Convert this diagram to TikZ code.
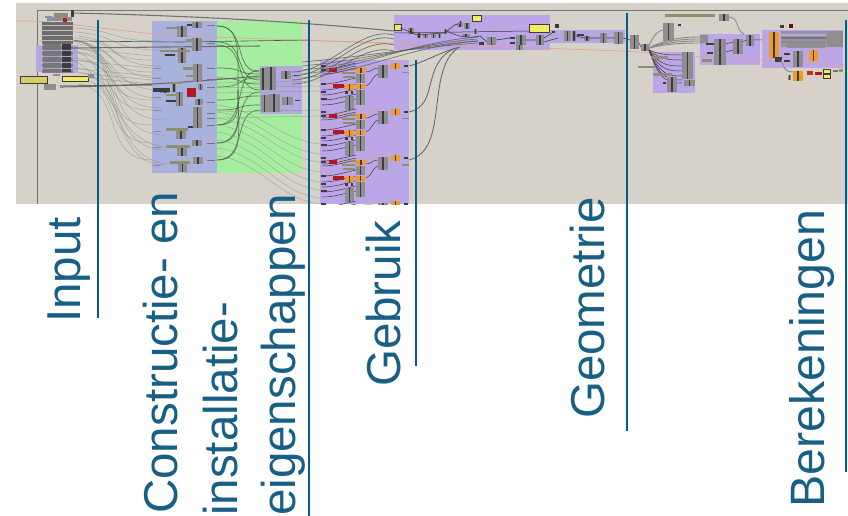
\documentclass[tikz,border=0pt]{standalone}
\usepackage{fontspec}
\setmainfont{Liberation Sans}
\definecolor{shot}{HTML}{D6D2CA}
\definecolor{frameline}{HTML}{77766F}
\definecolor{bluep}{HTML}{A9B2DC}
\definecolor{greenp}{HTML}{A6EE9F}
\definecolor{violetp}{HTML}{BBA6E8}
\definecolor{violetq}{HTML}{B3A8E0}
\definecolor{gcgray}{HTML}{8E8E8E}
\definecolor{gcdark}{HTML}{3C3C40}
\definecolor{olive}{HTML}{8F8F6E}
\definecolor{ylw}{HTML}{F2EC60}
\definecolor{org}{HTML}{F09A28}
\definecolor{redc}{HTML}{B01825}
\definecolor{wire}{HTML}{8A8A84}
\definecolor{wired}{HTML}{4F5A4E}
\definecolor{salmon}{HTML}{E2A48E}
\definecolor{teal}{HTML}{005F8A}
\definecolor{labelc}{HTML}{185F85}
\tikzset{
  x=1pt,y=-1pt,
  dividerline/.style={draw=teal,line width=1.5pt},
  lab/.style={rotate=90,anchor=base west,inner sep=0pt,text=labelc,font=\fontsize{47.5}{50}\selectfont},
  lightwire/.style={draw=wire,line width=.55pt,opacity=.6},
  darkwire/.style={draw=wired,line width=.7pt,opacity=.8},
  heavywire/.style={draw=wire!70!black,line width=1.1pt,opacity=.85},
  redwire/.style={draw=salmon,line width=.7pt},
}
\newcommand{\gc}[4]{\fill[gcgray] (#1,#2) rectangle (#3,#4);
  \fill[gcdark] ({(#1+#3)/2-0.8},#2) rectangle ({(#1+#3)/2+0.8},#4);}
\newcommand{\orc}[4]{\fill[org] (#1,#2) rectangle (#3,#4);
  \fill[gcdark] ({(#1+#3)/2-0.7},#2) rectangle ({(#1+#3)/2+0.7},#4);}
\newcommand{\bx}[5]{\fill[#1] (#2,#3) rectangle (#4,#5);}
\newcommand{\gebruikblock}[1]{%
\begin{scope}[shift={(320,#1)}]
  \draw[redwire] (2,6) .. controls (8,9) and (30,10) .. (58,5);
  \draw[redwire] (8,10) .. controls (5,18) and (8,25) .. (14,27);
  \foreach \yy in {9,12,14,24,30,35,40,45}{\draw[gcdark,line width=.5pt] (2,\yy) .. controls (14,\yy) and (22,{\yy-3}) .. (36,{\yy-6});}
  \draw[gcdark,line width=.5pt] (46,12) .. controls (52,12) and (52,8) .. (58,8);
  \draw[gcdark,line width=.5pt] (46,26) .. controls (52,24) and (52,16) .. (58,14);
  \bx{gcdark}{1}{5}{6}{7}\bx{gcdark}{1}{9}{6}{11}\bx{gcdark}{1}{23}{6}{25}\bx{gcdark}{1}{31}{6}{33}\bx{gcdark}{1}{38}{7}{40}
  \bx{redc}{9}{8}{17}{12}
  \bx{olive}{22}{12}{35}{14}\bx{olive}{23}{16}{35}{18}\bx{olive}{31}{8}{36}{10}
  \orc{36}{8}{46}{13}\gc{36}{14}{45}{23}
  \bx{redc}{13}{24}{24}{28}\orc{25}{24}{34}{30}\orc{36}{24}{45}{29}
  \gc{36}{30}{45}{45}\gc{25}{36}{34}{50}
  \bx{gcdark}{25}{31}{28}{34}\bx{gcdark}{31}{31}{33}{34}
  \gc{58}{5}{68}{18}
  \orc{71}{3}{80}{9}
  \bx{gcdark}{84}{5}{88}{7}\bx{olive}{82}{12}{89}{13.5}
\end{scope}}
\begin{document}
\begin{tikzpicture}
\useasboundingbox (0,0) rectangle (848,516);
\fill[white] (0,0) rectangle (848,516);
\begin{scope}
\clip (16,3) rectangle (848,204);
\fill[shot] (16,3) rectangle (848,204);
\draw[frameline,line width=.9pt] (37,204) -- (37,10) -- (848,10);
% panels
\fill[bluep] (152,21) rectangle (217,173);
\fill[greenp] (217,21) rectangle (302,173);
\fill[violetq] (260,66) rectangle (302,114);
\fill[violetq] (36,45) rectangle (78,72);
\fill[violetp] (394,15) rectangle (550,50);
\fill[violetp] (320,60) rectangle (409,204);
\fill[violetq] (550,30) rectangle (625,43);
\fill[violetp] (653,52) rectangle (695,93);
\fill[violetp] (700,34) rectangle (760,65);
\fill[violetp] (762,30) rectangle (843,68);
% long red wires
\draw[redwire] (16,21) .. controls (60,20) and (100,30) .. (170,35) .. controls (230,38) and (300,40) .. (394,43) .. controls (480,47) and (560,48) .. (640,52) .. controls (700,58) and (780,62) .. (848,65);
\draw[redwire] (300,40) -- (420,45);
% input wires to blue panel
\foreach \a/\b in {36/60,44/72,52/85,60/100,68/110,72/125,78/143,84/160}{
  \draw[lightwire] (78,\a) .. controls (125,{\a+6}) and (100,\b) .. (152,\b);
}
\foreach \a/\b in {28/41,32/50,38/66,42/78,48/90,53/98,58/108}{
  \draw[lightwire] (75,\a) .. controls (120,{\a+3}) and (110,\b) .. (160,\b);
}
\foreach \b in {120,135,150,165}{
  \draw[lightwire] (72,40) .. controls (125,42) and (100,\b) .. (165,\b);
}
\draw[lightwire] (72,50) .. controls (118,60) and (108,160) .. (168,164);
\draw[lightwire] (72,60) .. controls (112,75) and (115,145) .. (168,147);
\foreach \a in {48,60,68,72,76}{\draw[lightwire] (70,\a) -- (152,{\a+8});}
% heavy wires
\draw[heavywire] (60,87) .. controls (120,86) and (170,84) .. (260,76);
\draw[heavywire] (60,86) -- (152,85);
\draw[heavywire] (72,13) .. controls (200,16) and (300,22) .. (394,31);
\draw[heavywire] (72,48) -- (260,46);
\draw[wired,line width=.6pt] (72,41) -- (180,42) -- (310,40);
% green panel wires
\foreach \a/\b in {26/72,42/80,45/90,68/74,78/84,87/78,100/96,110/105,143/92,160/110,125/70}{
  \draw[darkwire] (217,\a) .. controls (248,\a) and (232,\b) .. (260,\b);
}
\draw[darkwire] (217,26) .. controls (240,26) and (238,50) .. (238,85) .. controls (238,110) and (240,125) .. (217,125);
\draw[darkwire] (217,143) .. controls (242,143) and (238,120) .. (238,90);
\draw[darkwire] (217,160) .. controls (245,160) and (238,130) .. (238,90);
\foreach \a/\b in {105/140,112/150,118/158,125/168,132/178,140/186,148/194,156/200}{
  \draw[lightwire,opacity=.55] (217,\a) .. controls (260,{\a+5}) and (280,\b) .. (320,{\b+4});
}
\foreach \a in {83,88,93,112,118}{\draw[lightwire] (217,\a) -- (320,{\a-2});}
% blue panel components
\foreach \y in {25,43,68,79,87,102,113,118,125,143,160}{
  \bx{gcdark!70}{207}{\y}{215}{\y+1.4}
}
\foreach \y in {41,68,78,97,110,131,147,165}{
  \bx{gcdark!60}{153}{\y}{161}{\y+1.2}
}
\gc{192}{22}{202}{28}\bx{olive}{166}{27}{178}{29}\gc{177}{26}{187}{37}\bx{gcdark}{187}{24}{192}{26}
\gc{192}{38}{202}{51}\bx{olive}{186}{39}{192}{41}\gc{178}{48}{186}{63}\bx{olive}{160}{50}{190}{52}\bx{gcdark}{165}{54}{175}{56}
\gc{193}{64}{202}{74}\bx{olive}{183}{67}{193}{70}
\gc{193}{74}{202}{82}\bx{olive}{186}{75}{193}{77}
\gc{172}{84}{176}{92}\gc{160}{88}{170}{93}\bx{olive}{170}{82}{182}{84}\bx{gcdark}{153}{88}{170}{92}
\bx{redc}{187}{88}{196}{97}\gc{198}{84}{203}{90}
\gc{176}{92}{183}{106}\bx{olive}{166}{94}{176}{96}\bx{gcdark}{166}{100}{176}{102}
\gc{195}{99}{203}{105}
\gc{193}{107}{202}{115}\gc{193}{115}{202}{121}\gc{193}{121}{202}{128}
\gc{176}{129}{186}{139}\bx{olive}{166}{128}{188}{131}\bx{gcdark}{188}{126}{193}{128}
\gc{192}{140}{202}{146}\gc{177}{146}{187}{156}\bx{olive}{166}{145}{190}{148}
\gc{193}{157}{203}{164}\gc{178}{163}{187}{172}\bx{olive}{170}{161}{190}{164}
% input block
\bx{gcdark!75}{42}{22}{73}{44}
\bx{gcgray}{47}{17}{72}{21}\bx{olive}{54}{13}{68}{17}\bx{gcdark}{71}{10}{73.5}{17}\bx{teal!60}{45}{16}{52}{18}\bx{redc}{63}{18}{67}{22}
\foreach \y in {25,30,35,40}{\bx{shot!70!gcgray}{40}{\y}{74}{\y+1}}
\foreach \y in {46,52,58,64,70}{\bx{gcdark!65}{42}{\y}{73}{\y+3.2}}
\bx{gcdark!70}{43}{44}{61}{72}\bx{gcdark}{62}{44}{71}{72}
\foreach \y in {50,56,62,68}{\bx{violetq!70!gcgray}{42}{\y}{73}{\y+1.2}}
\bx{gcdark}{20}{76}{48}{84}\bx{ylw!70!olive}{21}{77}{47}{83}
\bx{gcdark}{62}{76}{89}{82}\bx{ylw}{63}{77}{88}{81}
\bx{gcgray}{88}{74}{94}{78}\bx{gcgray}{44}{84}{56}{90}\bx{gcgray}{60}{85}{64}{88}\bx{gcgray}{53}{74}{60}{76}
% small panel in green
\gc{260}{68}{266}{90}\gc{266}{67}{276}{90}\gc{281}{71}{291}{79}\bx{gcdark}{294}{75}{299}{76.5}
\gc{261}{95}{268}{112}\gc{268}{94}{280}{112}\gc{282}{97}{293}{105}\bx{gcdark}{295}{100}{300}{101.5}
\foreach \a/\b in {72/26,76/30,80/36,84/42}{\draw[darkwire] (292,\a) .. controls (330,\a) and (360,\b) .. (394,\b+9);}
% Gebruik blocks
\gebruikblock{60}\gebruikblock{106}\gebruikblock{152}\gebruikblock{198}
% wires into top block
\foreach \a/\b in {62/48,66/46,70/44,74/42,78/46}{\draw[wired,line width=.7pt,opacity=.75] (302,\a) .. controls (360,{\a-5}) and (410,\b) .. (478,{\b-5});}
\draw[wire!70!black,line width=.8pt] (409,112) .. controls (440,105) and (420,65) .. (455,48);
\draw[wire!70!black,line width=.8pt] (409,160) .. controls (450,150) and (425,70) .. (458,48);
\draw[wire!70!black,line width=.8pt] (409,66) .. controls (425,62) and (440,52) .. (460,47);
% top block
\bx{gcdark}{393.5}{24.5}{401.5}{31.5}\bx{ylw}{394.5}{25.5}{400.5}{30.5}
\bx{gcdark}{472}{15.5}{482}{22.5}\bx{ylw}{473}{16.5}{481}{21.5}
\bx{gcdark}{529}{24}{550}{33}\bx{ylw}{530}{25}{549}{32}
\gc{408}{28}{414}{34}\gc{417}{33}{421}{38}\gc{423}{34}{428}{38}\gc{431}{34}{436}{38}\gc{438}{34}{441}{38}
\gc{444}{29}{447}{34}\gc{457}{23}{463}{27}\gc{459}{21}{462}{24}\gc{464}{23}{470}{29}\gc{462}{34}{470}{37}\gc{474}{29}{477}{34}
\draw[gcdark,line width=.6pt] (400,28) -- (408,31) -- (417,35) -- (444,33) .. controls (452,28) and (454,24) .. (458,24);
\draw[gcdark,line width=.6pt] (447,31) .. controls (460,38) and (470,38) .. (480,36) -- (487,42);
\draw[gcdark,line width=.5pt] (394,33) -- (530,31);
\gc{487}{37}{496}{45}\bx{gcdark}{479}{42}{484}{45}
\gc{516}{35}{526}{45}\gc{536}{35}{544}{45}\gc{516}{45}{523}{50}
\bx{gcdark}{510}{37}{515}{39}\bx{gcdark}{510}{42}{515}{44}
\bx{olive!70}{488}{26}{496}{27.5}
\draw[gcdark,line width=.6pt] (496,40) -- (510,38) (526,40) -- (536,40) (544,38) -- (552,33) (544,42) -- (558,38);
\bx{gcdark}{555}{24}{559}{28}\bx{gcdark}{552}{31}{555}{33}
% strip
\gc{564}{31}{571}{41}\gc{572}{31}{576}{41}\gc{584}{36}{590}{41}\gc{600}{33}{607}{43}\gc{614}{32}{623}{44}\bx{gcdark}{577}{34}{584}{36}
\draw[gcdark,line width=.6pt] (576,36) -- (584,38) -- (600,38) (607,38) -- (614,38);
% right part
\gc{630}{35}{639}{49}\gc{641}{44}{649}{51}\draw[gcdark,line width=.6pt] (623,38) -- (630,40) (639,43) -- (641,47);
\gc{663}{23}{674}{41}\bx{gcdark}{678}{24.5}{681}{26}
\draw[wire,line width=.9pt] (649,46) .. controls (653,38) and (655,32) .. (663,30);
\bx{olive}{665}{14.5}{715}{17}\gc{719}{14}{729}{21}
\draw[wire,line width=.9pt] (729,17) .. controls (740,18) and (735,30) .. (744,34);
\foreach \a in {37,39,41,43}{\draw[wire,line width=.9pt] (649,48) .. controls (670,\a) and (690,\a) .. (702,\a);}
\foreach \a in {55,60,66,71,76,80,83}{\draw[gcdark,line width=.5pt] (649,50) .. controls (660,\a) and (670,\a) .. (682,\a);}
\bx{olive}{651}{56}{668}{59}\bx{olive}{638}{66}{656}{68.5}\bx{olive}{653}{73}{672}{76}
\gc{682}{52}{693}{59}\gc{682}{59}{693}{64}\gc{682}{64}{693}{71}\gc{682}{71}{693}{79}\gc{684}{80}{695}{86}
\gc{667}{77}{677}{92}\bx{gcdark}{663}{82}{666}{84}
\bx{gcgray}{700}{35}{708}{43}
\gc{714}{39}{726}{49}\gc{714}{49}{726}{56}\gc{714}{56}{726}{65}
\gc{733}{39}{743}{54}\gc{746}{35}{754}{46}
\bx{gcdark}{706}{43}{714}{45}\bx{gcdark}{707}{52}{713}{54}\bx{olive}{702}{59}{712}{62}
\draw[gcdark,line width=.5pt] (726,44) -- (733,42) (726,52) -- (733,50) (743,42) -- (746,40) (754,40) -- (762,40);
% calc block
\bx{gcgray!80!violetp}{781}{31}{843}{47}
\bx{gcdark!70}{781}{37}{830}{39}\bx{gcdark!60}{781}{41}{825}{43}\bx{gcgray}{787}{43}{825}{48}
\bx{gcgray}{827}{31}{843}{47}
\bx{violetp}{781}{34}{826}{36}
\orc{769}{32}{779}{58}
\bx{gcdark}{775}{57}{782}{62}
\gc{793}{51}{803}{67}\orc{809}{50}{818}{61}
\bx{gcdark}{784}{53}{790}{55}\bx{gcdark}{784}{60}{790}{62}
\draw[wire,line width=.9pt] (781,60) .. controls (785,70) and (786,72) .. (793,72);
\orc{793}{71}{803}{81}\gc{788}{75}{791}{80}
\bx{redc!80!org}{807}{71}{813}{75}\bx{redc}{815}{72}{822}{75}
\bx{gcdark}{823}{69}{831}{79}\bx{ylw}{824}{70}{830}{73}\bx{ylw}{824}{75}{830}{78}
\bx{gcdark!70}{833}{70}{838}{72}\bx{olive}{839}{69}{843}{72}\bx{ylw}{843}{70}{848}{72}
\bx{gcdark}{780}{25}{784}{28}\bx{redc!60!black}{789}{24}{793}{28}
\end{scope}
% dividers
\coordinate (d1a) at (98,20);\coordinate (d1b) at (98,318);
\coordinate (d2a) at (309,20);\coordinate (d2b) at (309,516);
\coordinate (d3a) at (416,60);\coordinate (d3b) at (416,366);
\coordinate (d4a) at (627,13);\coordinate (d4b) at (627,431);
\coordinate (d5a) at (846,20);\coordinate (d5b) at (846,472);
\draw[dividerline] (d1a) -- (d1b);
\draw[dividerline] (d2a) -- (d2b);
\draw[dividerline] (d3a) -- (d3b);
\draw[dividerline] (d4a) -- (d4b);
\draw[dividerline] (d5a) -- (d5b);
% labels
\node[lab] (input) at (80,323) {Input};
\node[lab] (con1) at (177,514) {Constructie- en};
\node[lab] (con2) at (237,516) {installatie-};
\node[lab] (con3) at (295,516) {eigenschappen};
\node[lab] (gebruik) at (400,387) {Gebruik};
\node[lab] (geom) at (604,419) {Geometrie};
\node[lab,font=\fontsize{48.3}{50}\selectfont] (berek) at (824,508) {Berekeningen};
\end{tikzpicture}
\end{document}
